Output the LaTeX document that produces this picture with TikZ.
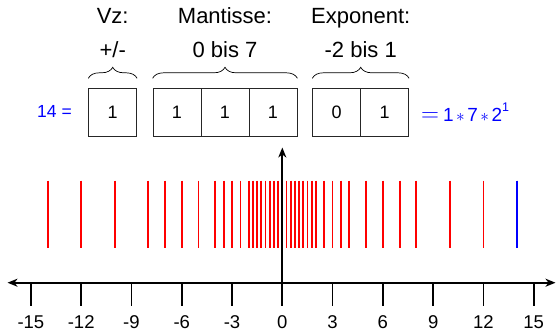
\documentclass[tikz,border=0pt]{standalone}
\usepackage{fontspec}
\setmainfont{Liberation Sans}
\usetikzlibrary{arrows.meta,decorations.pathreplacing}
\begin{document}
\begin{tikzpicture}[x=1pt,y=-1pt,
  box/.style={draw=black!85,line width=0.8pt,minimum size=48pt,inner sep=0pt,font=\fontsize{18}{20}\selectfont},
  brc/.style={decorate,decoration={brace,amplitude=11pt},line width=0.7pt},
  head/.style={anchor=base,font=\fontsize{22}{24}\selectfont},
  axis/.style={line width=1.8pt},
  tk/.style={line width=1.8pt},
  lab/.style={anchor=base,inner sep=0pt,font=\fontsize{18.5}{20}\selectfont},
  rl/.style={red,line width=1.8pt},
  bl/.style={blue,line width=1.2pt}
]
\useasboundingbox (0,0) rectangle (556,332);
% header texts
\node[head] (vz) at (112.7,23.3) {Vz:};
\node[head] (vzr) at (112.7,57) {+/-};
\node[head] (ma) at (225,23.3) {Mantisse:};
\node[head] (mar) at (225,57) {0 bis 7};
\node[head] (ex) at (360.7,23.3) {Exponent:};
\node[head] (exr) at (360.7,57) {-2 bis 1};
% boxes
\node[box] (s) at (112.7,112.2) {1};
\node[box] (m1) at (177,112.2) {1};
\node[box] (m2) at (225,112.2) {1};
\node[box] (m3) at (273,112.2) {1};
\node[box] (e1) at (336.7,112.2) {0};
\node[box] (e2) at (384.7,112.2) {1};
% braces
\draw[brc] ([yshift=9.5pt]s.north west) -- ([yshift=9.5pt]s.north east);
\draw[brc] ([yshift=9.5pt]m1.north west) -- ([yshift=9.5pt]m3.north east);
\draw[brc] ([yshift=9.5pt]e1.north west) -- ([yshift=9.5pt]e2.north east);
% value texts
\node[anchor=base west,blue,inner sep=0pt,font=\fontsize{17.5}{20}\selectfont] (lhs) at (37,117.7) {14 =};
\node[anchor=base west,blue,inner sep=0pt,font=\fontsize{19}{21}\selectfont] (rhs) at (421,121.7)
  {{\fontsize{25}{26}\selectfont$=$}\hspace{4pt}1\hspace{2.5pt}$\ast$\hspace{2.5pt}7\hspace{2.5pt}$\ast$\hspace{2.5pt}2\raisebox{10.5pt}{\fontsize{12.5}{13}\selectfont 1}};
% number lines
\foreach \v in {0.25,0.5,0.75,1,1.25,1.5,1.75,2,2.5,3,3.5,4,5,6,7,8,10,12,14} {
  \draw[rl] ({282.3+\v*16.76},180.7) -- ++(0,67.6);
  \draw[rl] ({282.3-\v*16.76},180.7) -- ++(0,67.6);
}
\draw[rl] (282.3,180.7) -- ++(0,67.6);
\draw[bl] ({282.3+14*16.76},180.7) -- ++(0,67.6);
% axes
\coordinate (xl) at (7.5,282.7);
\coordinate (xr) at (555.5,282.7);
\coordinate (yb) at (282.3,305.7);
\coordinate (yt) at (282.3,147.5);
\draw[axis,{Stealth[length=10pt,width=8pt,inset=3pt]}-{Stealth[length=10pt,width=8pt,inset=3pt]}] (xl) -- (xr);
\draw[axis,-{Stealth[length=10pt,width=8pt,inset=3pt]}] (yb) -- (yt);
\foreach \v in {-15,-12,-9,-6,-3,3,6,9,12,15} {
  \draw[tk] ({282.3+\v*16.76},282.7) -- ++(0,23);
}
\foreach \v in {-15,-12,-9,-6,-3,0,3,6,9,12,15} {
  \node[lab] (l\v) at ({282.3+\v*16.76},328.5) {\v};
}
\end{tikzpicture}
\end{document}
